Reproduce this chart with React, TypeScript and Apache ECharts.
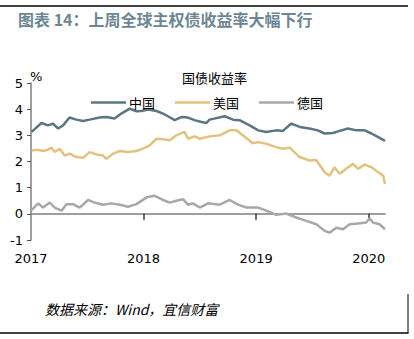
import React, { useEffect, useRef } from "react";
import * as echarts from "echarts";

const seriesNames = ["中国", "美国", "德国"];
const seriesColors = ["#5b7583", "#e2c27f", "#a8a8a8"];

const chinaData: [string, number][] = [
  ["2017-01-03", 3.13], ["2017-02-04", 3.47], ["2017-02-25", 3.38], ["2017-03-13", 3.45],
  ["2017-03-30", 3.26], ["2017-04-15", 3.38], ["2017-05-06", 3.68], ["2017-05-28", 3.6],
  ["2017-06-19", 3.55], ["2017-07-10", 3.6], ["2017-08-12", 3.68], ["2017-09-02", 3.7],
  ["2017-09-29", 3.64], ["2017-10-21", 3.83], ["2017-11-17", 4.02], ["2017-12-09", 3.92],
  ["2017-12-25", 3.93], ["2018-01-16", 3.99], ["2018-02-12", 3.93], ["2018-03-05", 3.83],
  ["2018-03-21", 3.73], ["2018-04-12", 3.58], ["2018-05-03", 3.7], ["2018-05-25", 3.68],
  ["2018-06-15", 3.58], ["2018-07-02", 3.53], ["2018-07-23", 3.47], ["2018-08-03", 3.6],
  ["2018-09-21", 3.73], ["2018-10-18", 3.6], ["2018-11-08", 3.58], ["2018-12-11", 3.38],
  ["2019-01-08", 3.19], ["2019-02-03", 3.13], ["2019-03-07", 3.19], ["2019-03-29", 3.17],
  ["2019-04-25", 3.45], ["2019-05-22", 3.32], ["2019-06-23", 3.26], ["2019-07-20", 3.19],
  ["2019-08-11", 3.07], ["2019-09-07", 3.09], ["2019-09-29", 3.17], ["2019-10-26", 3.26],
  ["2019-11-22", 3.19], ["2019-12-19", 3.19], ["2020-01-10", 3.07], ["2020-02-01", 2.93],
  ["2020-02-17", 2.83], ["2020-02-23", 2.78],
];

const usData: [string, number][] = [
  ["2017-01-03", 2.42], ["2017-01-24", 2.45], ["2017-02-09", 2.4], ["2017-02-25", 2.45],
  ["2017-03-08", 2.53], ["2017-03-19", 2.36], ["2017-04-04", 2.49], ["2017-04-20", 2.23],
  ["2017-05-06", 2.3], ["2017-05-28", 2.17], ["2017-06-19", 2.14], ["2017-07-10", 2.36],
  ["2017-08-01", 2.27], ["2017-08-22", 2.23], ["2017-09-02", 2.1], ["2017-09-24", 2.3],
  ["2017-10-16", 2.4], ["2017-11-11", 2.36], ["2017-12-09", 2.4], ["2017-12-30", 2.49],
  ["2018-01-21", 2.62], ["2018-02-12", 2.87], ["2018-03-05", 2.85], ["2018-03-27", 2.81],
  ["2018-04-17", 3.0], ["2018-05-14", 3.13], ["2018-05-25", 2.87], ["2018-06-15", 2.96],
  ["2018-07-02", 2.87], ["2018-08-03", 2.96], ["2018-09-05", 3.0], ["2018-10-07", 3.19],
  ["2018-10-29", 3.19], ["2018-11-19", 3.0], ["2018-12-21", 2.7], ["2019-01-08", 2.74],
  ["2019-02-03", 2.68], ["2019-03-07", 2.55], ["2019-03-29", 2.49], ["2019-04-20", 2.53],
  ["2019-05-22", 2.17], ["2019-06-23", 2.04], ["2019-07-15", 2.06], ["2019-08-11", 1.59],
  ["2019-08-27", 1.46], ["2019-09-12", 1.78], ["2019-09-29", 1.53], ["2019-10-20", 1.72],
  ["2019-11-11", 1.91], ["2019-11-27", 1.72], ["2019-12-19", 1.88], ["2020-01-10", 1.78],
  ["2020-02-01", 1.59], ["2020-02-17", 1.46], ["2020-02-23", 1.14],
];

const germanyData: [string, number][] = [
  ["2017-01-03", 0.14], ["2017-01-24", 0.4], ["2017-02-09", 0.24], ["2017-03-03", 0.43],
  ["2017-03-19", 0.24], ["2017-04-10", 0.12], ["2017-04-26", 0.37], ["2017-05-17", 0.37],
  ["2017-06-08", 0.24], ["2017-07-05", 0.53], ["2017-07-26", 0.43], ["2017-08-22", 0.35],
  ["2017-09-19", 0.4], ["2017-10-16", 0.35], ["2017-11-11", 0.27], ["2017-12-09", 0.37],
  ["2018-01-11", 0.63], ["2018-02-06", 0.69], ["2018-03-05", 0.53], ["2018-03-27", 0.43],
  ["2018-04-17", 0.5], ["2018-05-09", 0.56], ["2018-05-25", 0.35], ["2018-06-10", 0.4],
  ["2018-07-02", 0.24], ["2018-07-29", 0.4], ["2018-09-05", 0.35], ["2018-10-07", 0.53],
  ["2018-11-03", 0.35], ["2018-11-30", 0.24], ["2019-01-08", 0.24], ["2019-02-03", 0.12],
  ["2019-03-07", -0.04], ["2019-04-09", 0.01], ["2019-05-11", -0.14], ["2019-06-13", -0.27],
  ["2019-07-15", -0.4], ["2019-08-11", -0.65], ["2019-08-27", -0.72], ["2019-09-18", -0.53],
  ["2019-10-10", -0.59], ["2019-10-31", -0.4], ["2019-11-27", -0.37], ["2019-12-24", -0.33],
  ["2020-01-04", -0.17], ["2020-01-15", -0.33], ["2020-02-05", -0.4], ["2020-02-23", -0.59],
];

const yearTicks = [2017, 2018, 2019, 2020];
const yMin = -1;
const yMax = 5;

function toYear(d: string): number {
  const [y, m, day] = d.split("-").map(Number);
  const t = Date.UTC(y, m - 1, day);
  const s = Date.UTC(y, 0, 1);
  const e = Date.UTC(y + 1, 0, 1);
  return y + (t - s) / (e - s);
}

const cjk = "'Noto Sans CJK SC', 'Noto Sans', sans-serif";
const num = "'DejaVu Sans', 'Noto Sans CJK SC', sans-serif";

export default function App() {
  const ref = useRef<HTMLDivElement>(null);
  useEffect(() => {
    document.body.style.margin = "0";
    if (!ref.current) return;
    const chart = echarts.init(ref.current, undefined, { renderer: "svg" });
    const all = [chinaData, usData, germanyData];
    const xMax = toYear(chinaData[chinaData.length - 1][0]);
    chart.setOption({
      animation: false,
      backgroundColor: "#ffffff",
      title: {
        text: "国债收益率",
        left: 177,
        top: 66,
        textStyle: { fontFamily: cjk, fontSize: 13, fontWeight: "normal", color: "#000" },
      },
      legend: {
        data: seriesNames,
        left: "center",
        top: 91,
        itemWidth: 35,
        itemHeight: 14,
        itemGap: 20,
        icon: "path://M0,6 L35,6 L35,8.5 L0,8.5 Z",
        textStyle: { fontFamily: cjk, fontSize: 13, color: "#000", padding: [0, 0, 0, -2] },
      },
      grid: { left: 31, right: 29, top: 83, bottom: 99, containLabel: false },
      xAxis: {
        type: "value",
        min: 2017,
        max: xMax,
        axisLine: { show: true, onZero: true, lineStyle: { color: "#7f7f7f", width: 1.5 } },
        axisTick: { show: true, length: 6, lineStyle: { color: "#333", width: 1.5 }, customValues: yearTicks.slice(1) },
        axisLabel: {
          customValues: yearTicks,
          margin: 12,
          fontFamily: num,
          fontSize: 13,
          color: "#000",
          formatter: (v: number) => String(Math.round(v)),
        },
        splitLine: { show: false },
      },
      yAxis: {
        type: "value",
        min: yMin,
        max: yMax,
        interval: 1,
        name: "%",
        nameGap: 0,
        nameTextStyle: { fontFamily: num, fontSize: 13, color: "#000", align: "left", padding: [0, 0, 0, -1] },
        axisLine: { show: true, onZero: false, lineStyle: { color: "#7f7f7f", width: 1.5 } },
        axisTick: { show: true, length: 4, lineStyle: { color: "#555" } },
        axisLabel: { fontFamily: num, fontSize: 13, color: "#000", margin: 8 },
        splitLine: { show: false },
      },
      series: seriesNames.map((n, i) => ({
        name: n,
        type: "line",
        symbol: "none",
        smooth: false,
        lineStyle: { width: 2.5, color: seriesColors[i] },
        itemStyle: { color: seriesColors[i] },
        data: all[i].map(([d, v]) => [toYear(d), v]),
      })),
      graphic: [
        { type: "line", shape: { x1: 0, y1: 6, x2: 408, y2: 6 }, style: { stroke: "#000", lineWidth: 1.5 } },
        {
          type: "text",
          left: 18,
          top: 11,
          style: { text: "图表 14：上周全球主权债收益率大幅下行", fill: "#6e8694", font: "bold 16px " + cjk },
        },
        {
          type: "text",
          left: 45,
          top: 302,
          style: { text: "数据来源：Wind，宜信财富", fill: "#000", font: "italic 14px " + cjk },
        },
        { type: "line", shape: { x1: 408, y1: 294, x2: 408, y2: 333 }, style: { stroke: "#000", lineWidth: 1 } },
        { type: "line", shape: { x1: 0, y1: 333, x2: 408.5, y2: 333 }, style: { stroke: "#000", lineWidth: 1.5 } },
      ],
    });
    return () => chart.dispose();
  }, []);
  return <div ref={ref} style={{ width: 414, height: 339 }} />;
}
